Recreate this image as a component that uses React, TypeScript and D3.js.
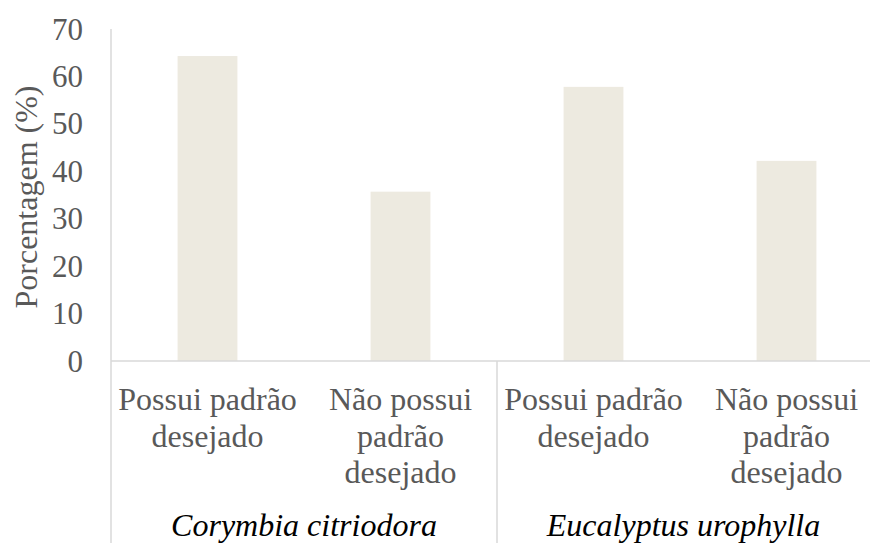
import React, { useEffect, useRef } from "react";
import * as d3 from "d3";

// data
const groups = ["Corymbia citriodora", "Eucalyptus urophylla"];
const categories = ["Possui padrão desejado", "Não possui padrão desejado"];
const categoryLines = [["Possui padrão", "desejado"], ["Não possui", "padrão", "desejado"]];
const valuesCorymbia = [64.3, 35.7];
const valuesEucalyptus = [57.8, 42.2];
const yTicks = [0, 10, 20, 30, 40, 50, 60, 70];

const width = 870;
const height = 543;

export default function App() {
    const ref = useRef<SVGSVGElement>(null);

    useEffect(() => {
        const svg = d3.select(ref.current);
        svg.selectAll("*").remove();

        const left = 111;
        const right = 883; // plot area runs past the picture edge
        const top = 29;
        const baseline = 361;
        const font = "Times New Roman, Liberation Serif, Tinos, DejaVu Serif, serif";

        const data = [
            ...categories.map((c, i) => ({ key: groups[0] + "|" + c, group: 0, cat: i, value: valuesCorymbia[i] })),
            ...categories.map((c, i) => ({ key: groups[1] + "|" + c, group: 1, cat: i, value: valuesEucalyptus[i] })),
        ];

        let xScale = d3.scaleBand()
            .domain(data.map(d => d.key))
            .range([left, right])
            .paddingInner(0.69)
            .paddingOuter(0.345);

        let yScale = d3.scaleLinear()
            .domain([0, 70])
            .range([baseline, top]);

        const step = xScale.step();

        // bars
        svg.append("g").selectAll("rect")
            .data(data)
            .enter()
            .append("rect")
            .attr("x", d => xScale(d.key)!)
            .attr("y", d => yScale(d.value))
            .attr("width", xScale.bandwidth())
            .attr("height", d => baseline - yScale(d.value))
            .attr("fill", "#edeae0");

        // y axis ticks
        svg.append("g").selectAll("text")
            .data(yTicks)
            .enter()
            .append("text")
            .attr("x", 83)
            .attr("y", d => yScale(d))
            .attr("dy", "0.34em")
            .attr("text-anchor", "end")
            .style("font-family", font)
            .attr("font-size", 31)
            .attr("fill", "#595959")
            .text(d => d);

        // axis lines
        const lineColor = "#d9d9d9";
        svg.append("line")
            .attr("x1", left).attr("x2", left)
            .attr("y1", top).attr("y2", height)
            .attr("stroke", lineColor).attr("stroke-width", 1.5);
        svg.append("line")
            .attr("x1", left).attr("x2", right)
            .attr("y1", baseline).attr("y2", baseline)
            .attr("stroke", lineColor).attr("stroke-width", 1.5);

        // group separator
        const sep = xScale(data[2].key)! - (step - xScale.bandwidth()) / 2;
        svg.append("line")
            .attr("x1", sep).attr("x2", sep)
            .attr("y1", baseline).attr("y2", height)
            .attr("stroke", lineColor).attr("stroke-width", 1.5);

        // category labels
        const catG = svg.append("g");
        data.forEach(d => {
            const cx = xScale(d.key)! + xScale.bandwidth() / 2;
            const t = catG.append("text")
                .attr("text-anchor", "middle")
                .style("font-family", font)
                .attr("font-size", 32)
                .attr("fill", "#595959");
            categoryLines[d.cat].forEach((line, i) => {
                t.append("tspan")
                    .attr("x", cx)
                    .attr("y", 410 + i * 36.5)
                    .text(line);
            });
        });

        // group labels
        const bounds = [[left, sep], [sep, Math.min(right, width)]];
        svg.append("g").selectAll("text")
            .data(groups)
            .enter()
            .append("text")
            .attr("x", (d, i) => (bounds[i][0] + bounds[i][1]) / 2)
            .attr("y", 536)
            .attr("text-anchor", "middle")
            .style("font-family", font)
            .attr("font-size", 32)
            .attr("font-style", "italic")
            .attr("fill", "#000000")
            .text(d => d);

        // y axis title
        svg.append("text")
            .attr("transform", `translate(37, ${(top + baseline) / 2 + 2}) rotate(-90)`)
            .attr("text-anchor", "middle")
            .style("font-family", font)
            .attr("font-size", 32)
            .attr("fill", "#595959")
            .text("Porcentagem (%)");
    }, []);

    return (
        <svg ref={ref} width={width} height={height}
             style={{ position: "absolute", left: 0, top: 0, background: "#fff" }} />
    );
}
